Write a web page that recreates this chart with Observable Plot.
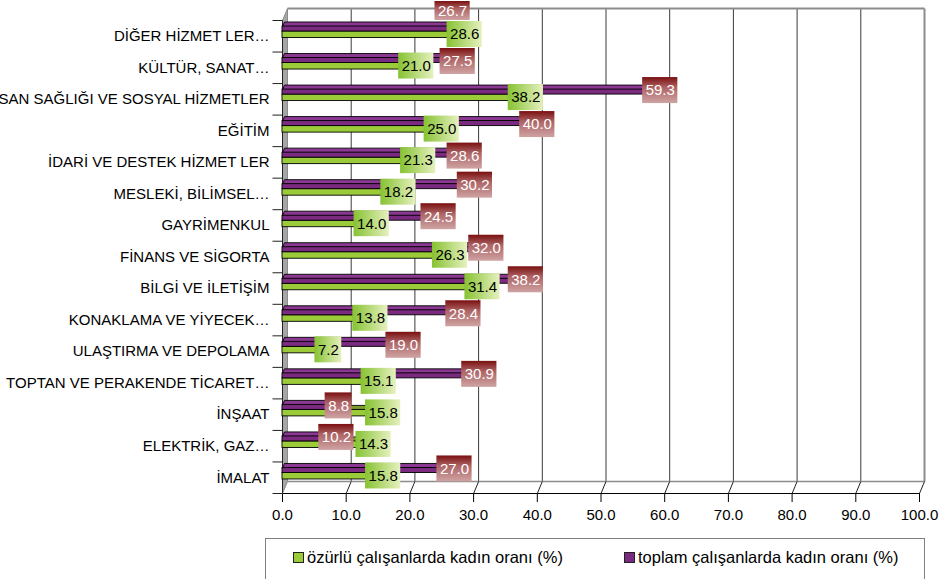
<!DOCTYPE html>
<html>
<head>
<meta charset="utf-8">
<script src="https://cdn.jsdelivr.net/npm/d3@7"></script>
<script src="https://cdn.jsdelivr.net/npm/@observablehq/plot@0.6"></script>
<style>
  body { margin: 0; background: #fff; font-family: Arial, "Liberation Sans", sans-serif; }
  #chart { position: absolute; left: 0; top: 0; }
  #legend { position: absolute; left: 265px; top: 538px; width: 660px; height: 60px;
            border: 1px solid #7f7f7f; box-sizing: border-box; font-size: 16.5px; color: #000; }
  .item { position: absolute; top: 9px; display: flex; align-items: center; white-space: nowrap; }
  .sw { width: 9px; height: 9px; border: 1px solid #222; margin-right: 3px; }
</style>
</head>
<body>
<div id="chart"></div>
<div id="legend"></div>
<script>
// ---------- data ----------
const categories = [
  "DİĞER HİZMET LER…",
  "KÜLTÜR, SANAT…",
  "İNSAN SAĞLIĞI VE SOSYAL HİZMETLER",
  "EĞİTİM",
  "İDARİ VE DESTEK HİZMET LER",
  "MESLEKİ, BİLİMSEL…",
  "GAYRİMENKUL",
  "FİNANS VE SİGORTA",
  "BİLGİ VE İLETİŞİM",
  "KONAKLAMA VE YİYECEK…",
  "ULAŞTIRMA VE DEPOLAMA",
  "TOPTAN VE PERAKENDE TİCARET…",
  "İNŞAAT",
  "ELEKTRİK, GAZ…",
  "İMALAT"
];
const ozurluValues = [28.6, 21.0, 38.2, 25.0, 21.3, 18.2, 14.0, 26.3, 31.4, 13.8, 7.2, 15.1, 15.8, 14.3, 15.8];
const toplamValues = [26.7, 27.5, 59.3, 40.0, 28.6, 30.2, 24.5, 32.0, 38.2, 28.4, 19.0, 30.9, 8.8, 10.2, 27.0];
const xTicks = [0, 10, 20, 30, 40, 50, 60, 70, 80, 90, 100];
const seriesNames = ["özürlü çalışanlarda kadın oranı (%)", "toplam çalışanlarda kadın oranı (%)"];

// ---------- layout ----------
const W = 940, H = 532, ML = 282, MR = 21, MT = 20, MB = 39;
const FONT = "Arial, 'Liberation Sans', sans-serif";
const FS = 15;
const LFS = 15;
const DEPTH_X = 5, DEPTH_Y = 12;   // 3D wall depth (px)
const BAR_DX = 2, BAR_DY = 4.5;    // bar depth (px)
const n = categories.length;

let X, Xi, Y, Yi;
try {
  const sx = Plot.scale({x: {type: "linear", domain: [0, 100], range: [ML, W - MR]}});
  const sy = Plot.scale({y: {type: "linear", domain: [0, n], range: [MT, H - MB]}});
  X = v => sx.apply(v); Xi = p => sx.invert(p);
  Y = v => sy.apply(v); Yi = p => sy.invert(p);
  if (!isFinite(X(1)) || !isFinite(Xi(300))) throw 0;
} catch (e) {
  const sx = d3.scaleLinear([0, 100], [ML, W - MR]);
  const sy = d3.scaleLinear([0, n], [MT, H - MB]);
  X = sx; Xi = sx.invert; Y = sy; Yi = sy.invert;
}
const xo = (v, px) => Xi(X(v) + px);
const yo = (v, px) => Yi(Y(v) + px);

// ---------- bars (3D) ----------
const series = [
  {values: ozurluValues, f0: 11, f1: 17.5, front: "#9ccb3a", top: "#7c9b2d", end: "#6a8824"},
  {values: toplamValues, f0: 6, f1: 11, front: "#7a2a7f", top: "#8a3892", end: "#561a58"}
];
const barMarks = [];
series.forEach((s, si) => {
  const tops = [], ends = [], fronts = [];
  s.values.forEach((v, i) => {
    const a = yo(i, s.f0), b = yo(i, s.f1);
    const ab = yo(i, s.f0 - BAR_DY), bb = yo(i, s.f1 - BAR_DY);
    const x0b = xo(0, BAR_DX), xvb = xo(v, BAR_DX);
    const id = si + "-" + i;
    [[0, a], [v, a], [xvb, ab], [x0b, ab], [0, a]].forEach(([x, y]) => tops.push({x, y, id}));
    [[v, a], [v, b], [xvb, bb], [xvb, ab], [v, a]].forEach(([x, y]) => ends.push({x, y, id}));
    fronts.push({v, a, b});
  });
  barMarks.push(
    Plot.line(tops, {x: "x", y: "y", z: "id", fill: s.top, stroke: "#000", strokeWidth: 0.9}),
    Plot.line(ends, {x: "x", y: "y", z: "id", fill: s.end, stroke: "#000", strokeWidth: 0.9}),
    Plot.rect(fronts, {x1: 0, x2: "v", y1: "a", y2: "b", fill: s.front, stroke: "#000", strokeWidth: 0.9})
  );
});

// ---------- data labels with simple overlap avoidance ----------
const ctx = document.createElement("canvas").getContext("2d");
ctx.font = `${LFS}px ${FONT}`;
const labels = [];
ozurluValues.forEach((v, i) => {
  const t = v.toFixed(1);
  labels.push({s: 0, v, t, cx: X(v), cy: Y(i) + 14, w: ctx.measureText(t).width + 6, h: 26});
});
toplamValues.forEach((v, i) => {
  const t = v.toFixed(1);
  labels.push({s: 1, v, t, cx: X(v), cy: Y(i) + 7, w: ctx.measureText(t).width + 6, h: 26});
});
for (let iter = 0; iter < 6; iter++) {
  for (const p of labels) {
    if (p.s !== 1) continue;
    for (const q of labels) {
      if (q === p) continue;
      const penX = Math.min(p.cx + p.w / 2 - (q.cx - q.w / 2), q.cx + q.w / 2 - (p.cx - p.w / 2));
      const penY = Math.min(p.cy + p.h / 2 - (q.cy - q.h / 2), q.cy + q.h / 2 - (p.cy - p.h / 2));
      if (penX > 0 && penY > 0) {
        if (penX < penY) p.cx += (p.cx < q.cx ? -1 : 1) * (penX + 2);
        else p.cy += (p.cy < q.cy ? -1 : 1) * (penY + 1);
      }
    }
  }
}
// keep boxes inside the chart area (clip the box top, re-centre the text)
for (const d of labels) {
  d.top = Math.max(1, d.cy - d.h / 2);
  d.bot = d.cy + d.h / 2;
  d.ty = (d.top + d.bot) / 2;
}
const greenLabels = labels.filter(d => d.s === 0);
const purpleLabels = labels.filter(d => d.s === 1);
const labelMarks = (arr, fill, color) => [
  Plot.rect(arr, {x1: d => Xi(d.cx - d.w / 2), x2: d => Xi(d.cx + d.w / 2),
                  y1: d => Yi(d.top), y2: d => Yi(d.bot), fill}),
  Plot.text(arr, {x: d => Xi(d.cx), y: d => Yi(d.ty), text: "t", fill: color, fontSize: LFS})
];

// ---------- walls ----------
const backTop = yo(0, -DEPTH_Y), backBot = yo(n, -DEPTH_Y);
const leftWall = [[0, 0], [xo(0, DEPTH_X), backTop], [xo(0, DEPTH_X), backBot], [0, n], [0, 0]]
  .map(([x, y]) => ({x, y}));

const plot = Plot.plot({
  width: W, height: H,
  marginLeft: ML, marginRight: MR, marginTop: MT, marginBottom: MB,
  style: {fontFamily: FONT, fontSize: FS + "px", background: "white", color: "#000"},
  x: {type: "linear", domain: [0, 100], range: [ML, W - MR], ticks: xTicks,
      tickFormat: d => d.toFixed(1), tickSize: 9, tickPadding: 7, line: true, label: null},
  y: {type: "linear", domain: [0, n], range: [MT, H - MB], axis: null},
  marks: [
    // left wall
    Plot.line(leftWall, {x: "x", y: "y", fill: "#a6a6a6", stroke: "#8c8c8c", strokeWidth: 1}),
    // back wall gridlines
    Plot.link(xTicks.slice(1, -1), {x1: d => xo(d, DEPTH_X), x2: d => xo(d, DEPTH_X),
      y1: backTop, y2: backBot, stroke: "#3a3a3a", strokeWidth: 1}),
    // back wall frame (top and right)
    Plot.link([0], {x1: xo(0, DEPTH_X), x2: xo(100, DEPTH_X), y1: backTop, y2: backTop, stroke: "#8c8c8c", strokeWidth: 2}),
    Plot.link([0], {x1: xo(100, DEPTH_X), x2: xo(100, DEPTH_X), y1: backTop, y2: backBot, stroke: "#8c8c8c", strokeWidth: 2}),
    // floor
    Plot.link([0], {x1: xo(0, DEPTH_X), x2: xo(100, DEPTH_X), y1: backBot, y2: backBot, stroke: "#8c8c8c", strokeWidth: 1.5}),
    Plot.link(xTicks.slice(1), {x1: d => d, x2: d => xo(d, DEPTH_X), y1: n, y2: backBot, stroke: "#222", strokeWidth: 1}),
    // left axis
    Plot.link([0], {x1: 0, x2: 0, y1: 0, y2: n, stroke: "#222", strokeWidth: 1}),
    Plot.link(d3.range(n + 1), {x1: xo(0, -10), x2: 0, y1: d => d, y2: d => d, stroke: "#222", strokeWidth: 1}),
    // category labels
    Plot.text(categories, {x: 0, y: (d, i) => i + 0.5, text: d => d, textAnchor: "end", dx: -13,
      fontSize: FS, fill: "#000"}),
    ...barMarks,
    ...labelMarks(greenLabels, "url(#gGreen)", "#000"),
    ...labelMarks(purpleLabels, "url(#gPurple)", "#fff")
  ]
});

d3.select(plot).insert("defs", ":first-child").html(`
  <linearGradient id="gGreen" x1="0" y1="0" x2="1" y2="0">
    <stop offset="0" stop-color="#86c232"/>
    <stop offset="1" stop-color="#e6f1bf"/>
  </linearGradient>
  <linearGradient id="gPurple" x1="0" y1="0" x2="0" y2="1">
    <stop offset="0" stop-color="#7a0f10"/>
    <stop offset="0.4" stop-color="#ad6465"/>
    <stop offset="1" stop-color="#cfa3a3"/>
  </linearGradient>`);

document.getElementById("chart").appendChild(plot);

// ---------- legend ----------
const legend = d3.select("#legend");
const legendColors = ["#9ccb3a", "#7a2a7f"];
const legendLeft = [27, 358];
seriesNames.forEach((name, k) => {
  const it = legend.append("div").attr("class", "item").style("left", legendLeft[k] + "px");
  it.append("div").attr("class", "sw").style("background", legendColors[k]);
  it.append("span").text(name);
});
</script>
</body>
</html>
